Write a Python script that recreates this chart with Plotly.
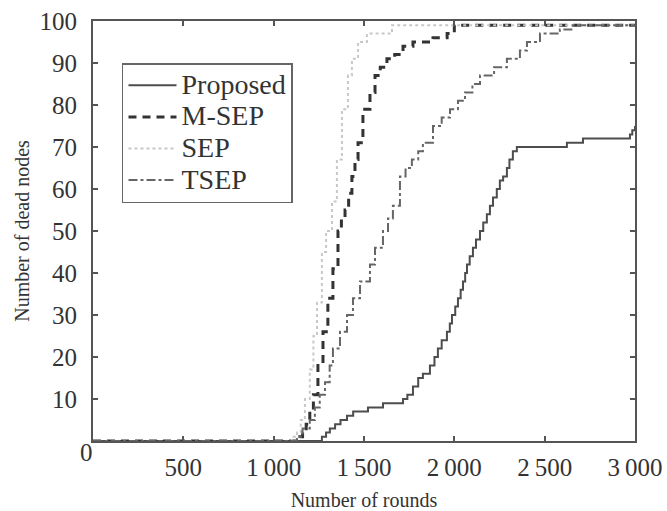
import plotly.graph_objects as go

# ---- data (rounds, number of dead nodes) ----
prop_x = [0, 1267, 1290, 1311, 1340, 1370, 1406, 1440, 1522, 1605, 1716, 1740, 1771, 1800, 1826, 1865,
          1890, 1909, 1930, 1959, 1975, 1987, 2005, 2020, 2035, 2048, 2060, 2070, 2085, 2103, 2120,
          2142, 2160, 2180, 2197, 2214, 2235, 2252, 2270, 2291, 2305, 2324, 2346, 2623, 2712, 2972,
          2985, 3000]
prop_y = [0, 1, 2, 3, 4, 5, 6, 7, 8, 9, 10, 11, 13, 15, 16, 18,
          20, 22, 24, 26, 28, 30, 32, 34, 36, 38, 40, 42, 44, 46, 48,
          50, 52, 54, 56, 58, 60, 62, 63, 65, 67, 69, 70, 71, 72, 73,
          74, 75]

msep_x = [0, 1145, 1160, 1180, 1200, 1220, 1245, 1273, 1300, 1328, 1356, 1375, 1395, 1415, 1433,
          1450, 1467, 1494, 1533, 1561, 1590, 1627, 1670, 1716, 1771, 1882, 1960, 2000, 3000]
msep_y = [0, 1, 2, 4, 7, 11, 18, 26, 34, 41, 50, 53, 55, 59, 63,
          67, 71, 79, 83, 87, 89, 91, 92, 94, 95, 96, 97, 99, 99]

sep_x = [0, 1100, 1129, 1150, 1173, 1200, 1220, 1240, 1267, 1290, 1323, 1350, 1378, 1411, 1433,
         1467, 1516, 1655, 3000]
sep_y = [0, 1, 2, 5, 10, 17, 25, 33, 45, 50, 57, 67, 79, 87, 91,
         95, 97, 99, 99]

tsep_x = [0, 1129, 1160, 1200, 1228, 1255, 1284, 1310, 1328, 1367, 1406, 1439, 1478, 1533, 1561,
          1605, 1633, 1660, 1699, 1730, 1765, 1800, 1826, 1882, 1930, 1976, 2020, 2059, 2100, 2142,
          2220, 2291, 2363, 2402, 2474, 2584, 2656, 3000]
tsep_y = [0, 1, 3, 5, 8, 11, 14, 18, 22, 26, 30, 34, 38, 42, 46,
          50, 53, 56, 63, 65, 67, 69, 71, 75, 77, 79, 81, 83, 85, 87,
          89, 91, 93, 95, 97, 98, 99, 99]

series_names = ["Proposed", "M-SEP", "SEP", "TSEP"]
x_tickvals = [500, 1000, 1500, 2000, 2500, 3000]
x_ticktext = ["500", "1\u2009000", "1\u2009500", "2\u2009000", "2\u2009500", "3\u2009000"]
y_tickvals = [10, 20, 30, 40, 50, 60, 70, 80, 90, 100]

FONT = "Liberation Serif, Times New Roman, serif"
AX = "#555555"
TXT = "#333333"


def legend_name(s):
    return '<span style="font-size:28px">' + s + '</span>'


fig = go.Figure()
fig.add_trace(go.Scatter(x=prop_x, y=prop_y, name=legend_name(series_names[0]), mode="lines",
                         line_shape="hv", line=dict(color="#4d4d4d", width=2, dash="solid")))
fig.add_trace(go.Scatter(x=msep_x, y=msep_y, name=legend_name(series_names[1]), mode="lines",
                         line_shape="hv", line=dict(color="#333333", width=3, dash="8px,6px")))
fig.add_trace(go.Scatter(x=sep_x, y=sep_y, name=legend_name(series_names[2]), mode="lines",
                         line_shape="hv", line=dict(color="#c8c8c8", width=2, dash="dot")))
fig.add_trace(go.Scatter(x=tsep_x, y=tsep_y, name=legend_name(series_names[3]), mode="lines",
                         line_shape="hv", line=dict(color="#666666", width=2, dash="dashdot")))

fig.update_layout(
    width=667, height=511,
    margin=dict(l=93, r=32, t=21, b=70, autoexpand=False),
    paper_bgcolor="white", plot_bgcolor="white",
    font=dict(family=FONT, color=TXT, size=24),
    showlegend=True,
    legend=dict(x=0.0535, y=0.9, xanchor="left", yanchor="top",
                bgcolor="white", bordercolor="#666666", borderwidth=1.5,
                font=dict(family=FONT, size=22, color=TXT),
                tracegroupgap=0, itemwidth=48),
    xaxis=dict(range=[0, 3000], tickvals=x_tickvals, ticktext=x_ticktext, automargin=False,
               showgrid=False, zeroline=False, showline=True, linecolor=AX, linewidth=2,
               mirror="ticks", ticks="inside", ticklen=5, tickwidth=1.5, tickcolor=AX,
               ticklabelstandoff=3,
               tickfont=dict(family=FONT, size=25, color=TXT),
               title=dict(text="Number of rounds", font=dict(family=FONT, size=20, color=TXT),
                          standoff=17)),
    yaxis=dict(range=[0, 100], tickvals=y_tickvals, automargin=False,
               showgrid=False, zeroline=False, showline=True, linecolor=AX, linewidth=2,
               mirror="ticks", ticks="inside", ticklen=5, tickwidth=1.5, tickcolor=AX,
               ticklabelstandoff=9,
               tickfont=dict(family=FONT, size=25, color=TXT),
               title=dict(text="Number of dead nodes", font=dict(family=FONT, size=20, color=TXT),
                          standoff=5)),
)

fig.add_annotation(x=0, y=0, xref="x", yref="y", text="0", showarrow=False,
                   xshift=-7, yshift=-11, font=dict(family=FONT, size=25, color=TXT))

fig.write_html("out.html", config={"displayModeBar": False},
               post_script="document.body.style.margin='0';document.body.style.overflow='hidden';")
